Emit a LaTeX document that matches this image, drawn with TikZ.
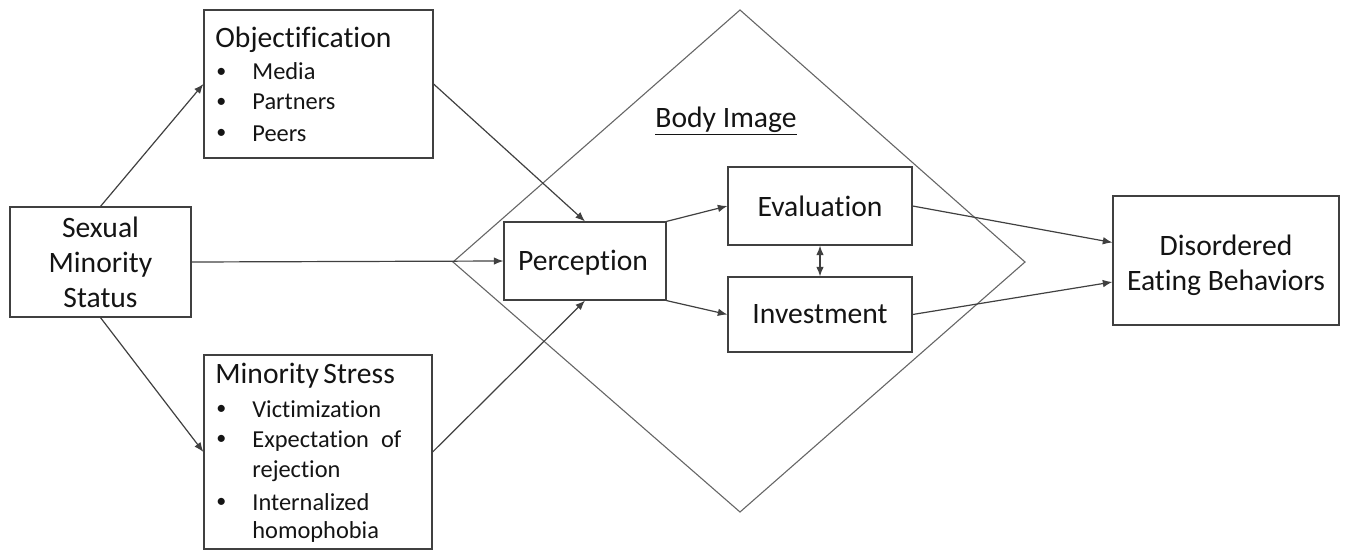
\documentclass[tikz,border=0pt]{standalone}
\usepackage{fontspec}
\setmainfont{Carlito}[Ligatures=NoCommon]
\usetikzlibrary{arrows.meta}
\newcommand\mytitlefont{\fontsize{14.8}{17.5}\selectfont}
\newcommand\myitemfont{\fontsize{12.2}{15}\selectfont}
\newcommand\mybulletfont{\fontsize{10}{12}\selectfont}
\begin{document}
\begin{tikzpicture}[x=0.5pt,y=-0.5pt,
  box/.style={draw=black!75, line width=0.6pt, inner sep=0, align=center, font=\mytitlefont, text=black!92},
  arr/.style={draw=black!75, line width=0.6pt, -{Latex[length=4.8pt,width=3.8pt]}},
  dblarr/.style={draw=black!75, line width=0.6pt, {Latex[length=4.8pt,width=3.8pt]}-{Latex[length=4.8pt,width=3.8pt]}},
  ttl/.style={anchor=base west, inner sep=0, font=\mytitlefont, text=black!92},
  itm/.style={anchor=base west, inner sep=0, font=\myitemfont, text=black!92},
  bul/.style={anchor=base west, inner sep=0, font=\mybulletfont, text=black!92}]
\useasboundingbox (0,0) rectangle (1347,551);
% diamond (Body Image)
\draw[draw=black!60, line width=0.55pt] (740,10) -- (1025,262) -- (740,512) -- (453,262) -- cycle;
\node[anchor=base, inner sep=0, font=\mytitlefont, text=black!92] (bi) at (726,127) {\underline{Body Image}};
% boxes
\node[box, minimum width=114.5pt, minimum height=74pt] (obj) at (318.5,84) {};
\node[box, minimum width=90.5pt, minimum height=55pt] (sms) at (100.5,262) {Sexual\\Minority\\Status};
\node[box, minimum width=114pt, minimum height=97pt] (ms) at (318,452) {};
\node[box, minimum width=81pt, minimum height=39pt] (per) at (585,261) {};
\node[box, draw=none] (pertxt) at (583,263) {Perception};
\node[box, minimum width=92pt, minimum height=39pt] (eva) at (820,206) {Evaluation};
\node[box, minimum width=92pt, minimum height=37.5pt] (inv) at (820,314.5) {Investment};
\node[box, minimum width=113pt, minimum height=64.5pt] (deb) at (1226,260.5) {};
\node[box, draw=none] (debtxt) at (1226,265) {Disordered\\Eating Behaviors};
% Objectification list
\node[ttl] (o0) at (215,48) {Objectification};
\node[bul] (ob1) at (216,79) {\raisebox{0.8pt}{•}};
\node[itm] (o1) at (252,80) {Media};
\node[bul] (ob2) at (216,109) {\raisebox{0.8pt}{•}};
\node[itm] (o2) at (252,110) {Partners};
\node[bul] (ob3) at (216,140) {\raisebox{0.8pt}{•}};
\node[itm] (o3) at (252,141) {Peers};
% Minority Stress list
\node[ttl] (m0) at (215,383) {Minority\hspace{0.15em}Stress};
\node[bul] (mb1) at (216,416) {\raisebox{0.8pt}{•}};
\node[itm] (m1) at (252,417) {Victimization};
\node[bul] (mb2) at (216,446) {\raisebox{0.8pt}{•}};
\node[itm] (m2) at (252,447) {Expectation\hspace{0.5em}of};
\node[itm] (m3) at (252,477) {rejection};
\node[bul] (mb3) at (216,509) {\raisebox{0.8pt}{•}};
\node[itm] (m4) at (252,510) {Internalized};
\node[itm] (m5) at (252,538) {homophobia};
% connectors
\draw[arr] (sms.north) -- (obj.west);
\draw[arr] (sms.south) -- (ms.west);
\draw[arr] (sms.east) -- (per.west);
\draw[arr] (obj.east) -- (per.north);
\draw[arr] (ms.east) -- (per.south);
\draw[arr] (per.north east) -- (eva.west);
\draw[arr] (per.south east) -- (inv.west);
\draw[dblarr] (eva.south) -- (inv.north);
\draw[arr] (eva.east) -- ([yshift=9pt]deb.west);
\draw[arr] (inv.east) -- ([yshift=-10.75pt]deb.west);
\end{tikzpicture}
\end{document}
